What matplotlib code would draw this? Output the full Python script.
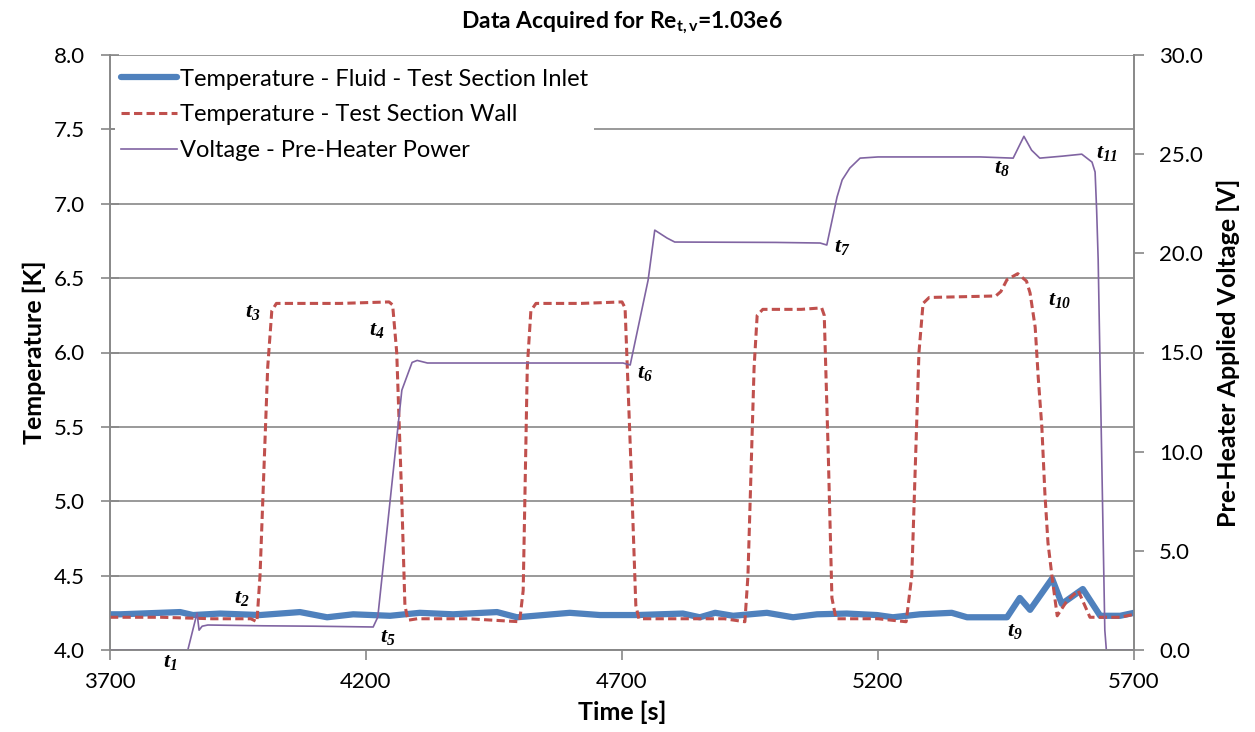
import matplotlib
matplotlib.use('Agg')
import matplotlib.pyplot as plt
from matplotlib.ticker import FormatStrFormatter, MultipleLocator

plt.rcParams['font.family'] = ['Lato', 'DejaVu Sans']
plt.rcParams['mathtext.fontset'] = 'custom'
plt.rcParams['mathtext.it'] = 'Liberation Serif:italic:bold'
plt.rcParams['mathtext.rm'] = 'Liberation Serif:italic:bold'
plt.rcParams['mathtext.bf'] = 'Liberation Serif:italic:bold'
plt.rcParams['mathtext.sf'] = 'Lato:bold'

# Temperatura del fluido a la entrada (K)
t_inlet = [3700, 3720, 3837, 3862, 3915, 3993, 4071, 4124, 4175, 4247, 4305, 4370, 4456, 4495,
           4598, 4657, 4729, 4819, 4852, 4882, 4917, 4983, 5034, 5081, 5139, 5198, 5229, 5282,
           5344, 5374, 5438, 5452, 5477, 5497, 5540, 5559, 5600, 5634, 5673, 5700]
T_inlet = [4.24, 4.24, 4.255, 4.235, 4.245, 4.235, 4.255, 4.22, 4.24, 4.23, 4.25, 4.24, 4.255, 4.22,
           4.25, 4.235, 4.235, 4.245, 4.22, 4.25, 4.23, 4.25, 4.22, 4.24, 4.245, 4.235, 4.22, 4.24,
           4.25, 4.22, 4.22, 4.22, 4.35, 4.27, 4.48, 4.31, 4.41, 4.23, 4.23, 4.25]

# Temperatura de la pared (K)
t_wall = [3700, 3800, 3900, 3975, 3987, 3993, 4008, 4016, 4025, 4150, 4245, 4252, 4260, 4270,
          4276, 4282, 4300, 4400, 4500, 4507, 4515, 4522, 4532, 4620, 4700, 4706, 4718, 4727,
          4733, 4800, 4900, 4940, 4946, 4958, 4964, 4975, 5050, 5090, 5095, 5103, 5110, 5118,
          5200, 5255, 5266, 5280, 5288, 5300, 5430, 5440, 5452, 5473, 5490, 5497, 5507, 5513,
          5520, 5526, 5532, 5540, 5550, 5569, 5591, 5614, 5673, 5700]
T_wall = [4.22, 4.22, 4.21, 4.21, 4.19, 4.5, 5.9, 6.28, 6.33, 6.33, 6.34, 6.32, 6.0, 5.0,
          4.3, 4.20, 4.21, 4.21, 4.19, 4.4, 5.9, 6.28, 6.33, 6.33, 6.34, 6.3, 5.2, 4.3,
          4.21, 4.21, 4.21, 4.19, 4.5, 5.9, 6.25, 6.29, 6.29, 6.30, 6.25, 5.3, 4.35, 4.21,
          4.21, 4.19, 4.5, 6.0, 6.33, 6.37, 6.38, 6.41, 6.49, 6.53, 6.48, 6.40, 6.17, 5.83,
          5.50, 5.05, 4.72, 4.49, 4.23, 4.33, 4.40, 4.22, 4.22, 4.24]

# Voltaje del precalentador (V)
t_volt = [3700, 3852, 3870, 3874, 3880, 3891, 4000, 4100, 4214, 4223, 4270, 4290, 4300, 4320,
          4500, 4702, 4716, 4751, 4764, 4788, 4803, 5000, 5087, 5100, 5120, 5130, 5145, 5165,
          5200, 5400, 5464, 5485, 5500, 5516, 5560, 5598, 5618, 5624, 5627, 5630, 5643, 5646, 5700]
V_volt = [0, 0, 1.86, 1.0, 1.2, 1.26, 1.22, 1.2, 1.16, 1.66, 13.1, 14.5, 14.6, 14.47,
          14.47, 14.47, 14.37, 18.65, 21.17, 20.77, 20.57, 20.55, 20.52, 20.42, 22.84, 23.7, 24.3, 24.8,
          24.86, 24.86, 24.8, 25.9, 25.2, 24.8, 24.9, 25.0, 24.6, 24.1, 22.2, 19.7, 1.0, 0, 0]

# Etiquetas de los instantes
etiquetas = ['1', '2', '3', '4', '5', '6', '7', '8', '9', '10', '11']
t_etiq = [3817, 3958, 3979, 4221, 4243, 4745, 5130, 5442, 5468, 5555, 5647]
T_etiq = [3.92, 4.35, 6.27, 6.15, 4.09, 5.86, 6.71, 7.24, 4.13, 6.35, 7.34]

x_ticks = [3700, 4200, 4700, 5200, 5700]

gris = '#888888'

fig = plt.figure(figsize=(12.55, 7.32), dpi=100)
ax = fig.add_axes([110 / 1255, (732 - 650) / 732, 1024 / 1255, 595 / 732])
ax2 = ax.twinx()

l1, = ax.plot(t_inlet, T_inlet, color='#4F81BD', lw=4.5, solid_capstyle='round',
              solid_joinstyle='round', label='Temperature - Fluid - Test Section Inlet', zorder=3)
l2, = ax.plot(t_wall, T_wall, color='#C0504D', lw=2.2, dashes=(2.7, 1.4),
              label='Temperature - Test Section Wall', zorder=4)
l3, = ax2.plot(t_volt, V_volt, color='#8064A2', lw=1.2, label='Voltage - Pre-Heater Power')

ax.set_xlim(3700, 5700)
ax.set_ylim(4.0, 8.0)
ax2.set_ylim(0, 30)
ax.set_xticks(x_ticks)
ax.yaxis.set_major_locator(MultipleLocator(0.5))
ax2.yaxis.set_major_locator(MultipleLocator(5))
ax.yaxis.set_major_formatter(FormatStrFormatter('%.1f'))
ax2.yaxis.set_major_formatter(FormatStrFormatter('%.1f'))

ax.grid(axis='y', color=gris, lw=1.2)
ax.set_axisbelow(True)

for a in (ax, ax2):
    for s in a.spines.values():
        s.set_color(gris)
        s.set_linewidth(1.2)
    a.spines['top'].set_visible(False)

ax.tick_params(axis='y', direction='inout', length=13, color=gris, width=1.2, labelsize=16, pad=11.5)
ax.tick_params(axis='x', direction='out', length=7, color=gris, width=1.2, labelsize=16, pad=9)
ax2.tick_params(axis='y', direction='out', length=7, color=gris, width=1.2, labelsize=16, pad=11)

ax.set_xlabel('Time [s]', fontsize=18, fontweight='bold', labelpad=6)
ax.set_ylabel('Temperature [K]', fontsize=18, fontweight='bold', labelpad=6)
ax2.set_ylabel('Pre-Heater Applied Voltage [V]', fontsize=18, fontweight='bold', labelpad=10)
ax.set_title('Data Acquired for Re$_{\\mathsf{t,v}}$=1.03e6', fontsize=16.5, fontweight='bold', pad=20)

for et, x, y in zip(etiquetas, t_etiq, T_etiq):
    ax.text(x, y, '$t_{' + et + '}$', fontsize=16, ha='center', va='center', zorder=6)

leg = ax2.legend(handles=[l1, l2, l3], loc='upper left', bbox_to_anchor=(0.0, 0.995),
                 fontsize=17, frameon=True, fancybox=False, framealpha=1, edgecolor='none',
                 facecolor='white', handlelength=2.4, handletextpad=0.1, labelspacing=0.62,
                 borderpad=0.25, borderaxespad=0.2)

fig.savefig('out.png', dpi=100)
